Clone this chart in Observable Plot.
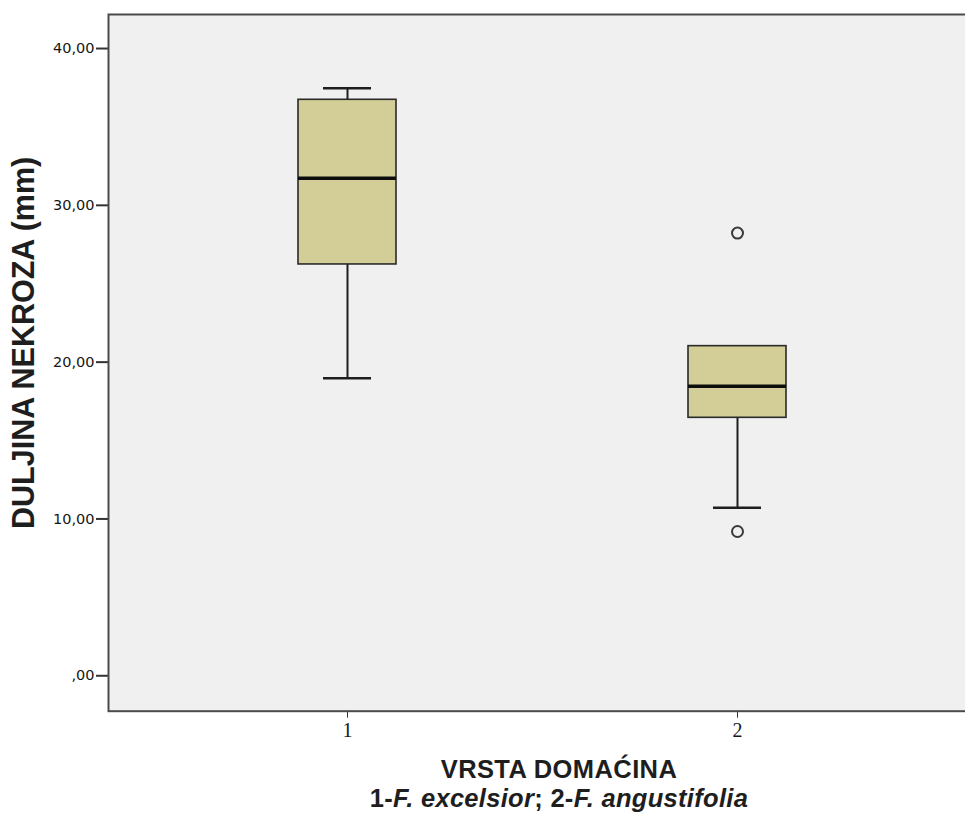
<!DOCTYPE html>
<html>
<head>
<meta charset="utf-8">
<script src="https://cdn.jsdelivr.net/npm/d3@7"></script>
<script src="https://cdn.jsdelivr.net/npm/@observablehq/plot@0.6"></script>
<style>
  html, body { margin: 0; padding: 0; background: #ffffff; overflow: hidden; }
  #wrap { width: 965px; height: 813px; overflow: hidden; position: relative; }
  #title { width: 965px; box-sizing: border-box; padding-left: 153px; text-align: center;
           font-family: "Liberation Sans", Arial, sans-serif; font-weight: bold; font-size: 25.5px;
           line-height: 29px; color: #1e1e1e; }
  #title .l1 { letter-spacing: 0.4px; }
  #title .l2 { letter-spacing: 0.3px; }
</style>
</head>
<body>
<div id="wrap">
  <div id="chart"></div>
  <div id="title">
    <div class="l1">VRSTA DOMAĆINA</div>
    <div class="l2">1-<i>F. excelsior</i>; 2-<i>F. angustifolia</i></div>
  </div>
</div>
<script>
// Data
const groups      = [1, 2];
const whiskerLow  = [18.98, 10.71];
const q1          = [26.23, 16.45];
const median      = [31.73, 18.47];
const q3          = [36.73, 21.02];
const whiskerHigh = [37.47, 21.02];
const outlierGroup = [2, 2];
const outlierValue = [28.23, 9.20];
const yTicks = [0, 10, 20, 30, 40];
const yLabel = "DULJINA NEKROZA (mm)";

const boxes = groups.map((g, i) => ({
  group: g, low: whiskerLow[i], q1: q1[i], median: median[i], q3: q3[i], high: whiskerHigh[i]
}));
const outliers = outlierGroup.map((g, i) => ({group: g, value: outlierValue[i]}));

const fmt = d => d === 0 ? ",00" : d.toFixed(2).replace(".", ",");

const chart = Plot.plot({
  width: 976,
  height: 755,
  marginLeft: 108,
  marginRight: 0,
  marginTop: 14,
  marginBottom: 44.3,
  style: {maxWidth: "none", background: "white", overflow: "visible", fontFamily: "DejaVu Sans, sans-serif"},
  x: {type: "band", domain: groups, paddingInner: 0.748, paddingOuter: 0.4848, align: 0.5, label: null},
  y: {domain: [-2.26, 42.17], label: null},
  marks: [
    Plot.frame({fill: "#f0f0f0", stroke: null}),
    Plot.axisY({ticks: yTicks, tickFormat: fmt, tickSize: 12, tickPadding: 2, fontSize: 14.5,
                strokeWidth: 2, stroke: "#333", color: "#161616", label: null}),
    Plot.axisX({tickSize: 7, tickPadding: 5, fontSize: 20, fontFamily: "Liberation Serif, serif",
                stroke: "#333", color: "#161616", label: null}),
    Plot.text([yLabel], {frameAnchor: "left", textAnchor: "middle", text: d => d, rotate: -90, dx: -84, dy: -20,
                fontSize: 30.5, fontWeight: "bold", fontFamily: "Liberation Sans, Arial, sans-serif",
                fill: "#1e1e1e"}),
    // whiskers
    Plot.ruleX(boxes, {x: "group", y1: "low", y2: "q1", stroke: "#1e1e1e", strokeWidth: 2}),
    Plot.ruleX(boxes, {x: "group", y1: "q3", y2: "high", stroke: "#1e1e1e", strokeWidth: 2}),
    Plot.tickY(boxes, {x: "group", y: "low", stroke: "#1e1e1e", strokeWidth: 2.5, insetLeft: 25, insetRight: 25}),
    Plot.tickY(boxes, {x: "group", y: "high", stroke: "#1e1e1e", strokeWidth: 2.5, insetLeft: 25, insetRight: 25}),
    // boxes
    Plot.barY(boxes, {x: "group", y1: "q1", y2: "q3", fill: "#d3ce98", stroke: "#2a2a2a", strokeWidth: 1.6}),
    Plot.tickY(boxes, {x: "group", y: "median", stroke: "#0d0d0d", strokeWidth: 3.5}),
    // outliers
    Plot.dot(outliers, {x: "group", y: "value", r: 5.5, stroke: "#3a3a3a", strokeWidth: 2, fill: "none"}),
    Plot.frame({stroke: "#4a4a4a", strokeWidth: 2, fill: null})
  ]
});
document.getElementById("chart").appendChild(chart);
</script>
</body>
</html>
